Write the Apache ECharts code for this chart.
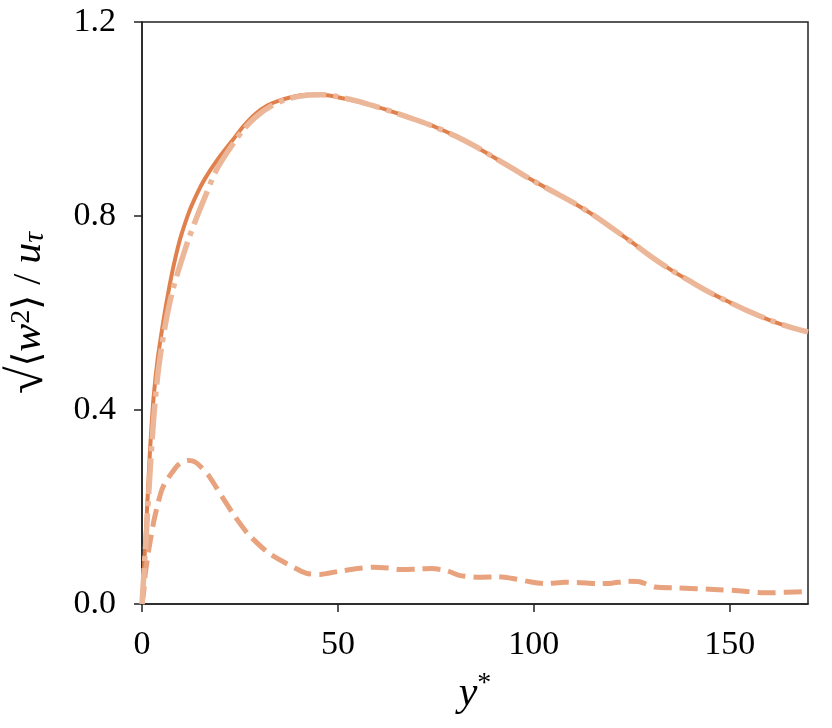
<!DOCTYPE html>
<html>
<head>
<meta charset="utf-8">
<script src="https://cdn.jsdelivr.net/npm/echarts@6/dist/echarts.min.js"></script>
<style>
  html, body { margin: 0; padding: 0; background: #fff; }
  #chart { width: 832px; height: 728px; }
</style>
</head>
<body>
<div id="chart"></div>
<script>
// solid line
var ySolid = [0, 0.5, 1, 1.5, 2, 2.5, 3, 4, 5, 6, 7, 8, 9, 10, 12, 14, 16, 19, 23, 26, 29, 32, 35, 38, 42, 46, 50,
  55, 60, 65, 70, 75, 80, 85, 90, 95, 100, 105, 110, 115, 120, 125, 130, 135, 140, 145, 150, 155, 160, 165, 170];
var wSolid = [0, 0.075, 0.15, 0.23, 0.31, 0.375, 0.43, 0.505, 0.56, 0.61, 0.655, 0.695, 0.73, 0.76, 0.808, 0.845, 0.876, 0.913, 0.955, 0.986, 1.011, 1.028, 1.038, 1.045, 1.05, 1.05, 1.045,
  1.036, 1.025, 1.012, 0.998, 0.983, 0.965, 0.944, 0.92, 0.896, 0.872, 0.85, 0.828, 0.803, 0.775, 0.746, 0.716, 0.689, 0.665, 0.642, 0.622, 0.603, 0.586, 0.572, 0.561];

// dash-dot line
var yDashDot = [0, 1, 2, 3, 4, 5, 6, 7, 8, 9, 10, 12, 14, 16, 19, 23, 26, 29, 33, 37, 42, 46, 50,
  55, 60, 65, 70, 75, 80, 85, 90, 95, 100, 105, 110, 115, 120, 125, 130, 135, 140, 145, 150, 155, 160, 165, 170];
var wDashDot = [0, 0.13, 0.265, 0.385, 0.47, 0.53, 0.578, 0.618, 0.652, 0.68, 0.706, 0.755, 0.798, 0.838, 0.895, 0.946, 0.979, 1.004, 1.027, 1.041, 1.049, 1.05, 1.046,
  1.037, 1.025, 1.012, 0.998, 0.983, 0.965, 0.944, 0.92, 0.896, 0.872, 0.85, 0.828, 0.803, 0.775, 0.746, 0.716, 0.689, 0.665, 0.642, 0.622, 0.603, 0.586, 0.572, 0.561];

// dashed line
var yDashed = [0, 0.4, 0.8, 1.5, 2, 3, 4, 5, 6, 7.5, 9, 10.5, 12, 13.5, 15, 17, 19, 21, 23.5, 27, 32, 37, 42, 45.5, 50,
  55, 59, 63, 66, 70, 74, 78, 81, 86, 91, 95, 99, 103, 108, 112, 116, 120, 124, 127, 131, 137, 146, 153, 159, 164, 170];
var wDashed = [0, 0.022, 0.06, 0.1, 0.125, 0.17, 0.205, 0.234, 0.252, 0.269, 0.285, 0.294, 0.296, 0.293, 0.283, 0.265, 0.24, 0.214, 0.183, 0.145, 0.107, 0.083, 0.063, 0.061, 0.067,
  0.073, 0.076, 0.074, 0.071, 0.072, 0.073, 0.068, 0.059, 0.055, 0.056, 0.052, 0.046, 0.042, 0.045, 0.044, 0.042, 0.043, 0.047, 0.046, 0.035, 0.033, 0.03, 0.027, 0.023, 0.024, 0.026];

var xTicks = [0, 50, 100, 150];
var yTicks = [0, 0.4, 0.8, 1.2];

function pairs(xs, ys) {
  return xs.map(function (x, i) { return [x, ys[i]]; });
}

var serif = 'Liberation Serif';
var axisColor = '#222';

var chart = echarts.init(document.getElementById('chart'));
chart.setOption({
  animation: false,
  backgroundColor: '#fff',
  textStyle: { fontFamily: serif },
  grid: {
    left: 142, right: 24, top: 22, bottom: 124,
    outerBoundsMode: 'none',
    containLabel: false,
    show: true, borderColor: axisColor, borderWidth: 1.5
  },
  xAxis: {
    type: 'value',
    min: 0, max: 170, interval: 50,
    name: '{it|y}{sup|*}',
    nameLocation: 'middle',
    nameGap: 66,
    nameTextStyle: {
      rich: {
        it: { fontFamily: serif, fontStyle: 'italic', fontSize: 42, color: '#000' },
        sup: { fontFamily: serif, fontSize: 28, color: '#000', verticalAlign: 'bottom', padding: [0, 0, 20, 0] }
      }
    },
    axisLine: { lineStyle: { color: axisColor, width: 1.5 } },
    axisTick: { length: 8, lineStyle: { color: axisColor, width: 1.5 } },
    axisLabel: {
      fontFamily: serif, fontSize: 34, color: '#000', margin: 24,
      showMaxLabel: false,
      formatter: function (v) { return xTicks.indexOf(v) >= 0 ? String(v) : ''; }
    },
    splitLine: { show: false }
  },
  yAxis: {
    type: 'value',
    min: 0, max: 1.2, interval: 0.4,
    name: '{r|√}{o|⟨}{it|w}{sup|2}{o|⟩}{n| / }{it|u}{sub|τ}',
    nameLocation: 'middle',
    nameGap: 88,
    nameRotate: 90,
    nameTextStyle: {
      rich: {
        r: { fontFamily: serif, fontSize: 50, color: '#000' },
        o: { fontFamily: 'DejaVu Serif', fontSize: 38, color: '#000' },
        n: { fontFamily: serif, fontSize: 40, color: '#000' },
        it: { fontFamily: serif, fontStyle: 'italic', fontSize: 42, color: '#000' },
        sup: { fontFamily: serif, fontSize: 28, color: '#000', verticalAlign: 'bottom', padding: [0, 0, 18, 0] },
        sub: { fontFamily: serif, fontStyle: 'italic', fontSize: 30, color: '#000', verticalAlign: 'top', padding: [16, 0, 0, 0] }
      }
    },
    axisLine: { show: true, lineStyle: { color: axisColor, width: 1.5 } },
    axisTick: { show: true, length: 8, lineStyle: { color: axisColor, width: 1.5 } },
    axisLabel: {
      fontFamily: serif, fontSize: 34, color: '#000', margin: 26,
      formatter: function (v) { return yTicks.indexOf(v) >= 0 ? v.toFixed(1) : ''; }
    },
    splitLine: { show: false }
  },
  series: [
    {
      type: 'line', name: 'solid', data: pairs(ySolid, wSolid),
      showSymbol: false, smooth: 0.3, z: 2,
      lineStyle: { color: '#e0804d', width: 4 }
    },
    {
      type: 'line', name: 'dashed', data: pairs(yDashed, wDashed),
      showSymbol: false, smooth: 0.2, z: 3,
      lineStyle: { color: '#e8a37e', width: 5, type: [18, 8] }
    },
    {
      type: 'line', name: 'dashdot', data: pairs(yDashDot, wDashDot),
      showSymbol: false, smooth: 0.3, z: 4,
      lineStyle: { color: '#ecb799', width: 5.5, type: [36, 7, 5, 7] }
    }
  ]
});
</script>
</body>
</html>
